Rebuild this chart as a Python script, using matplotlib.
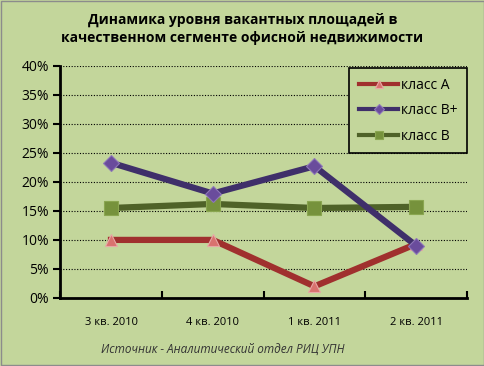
import matplotlib
matplotlib.use("Agg")
import matplotlib.pyplot as plt
from matplotlib.ticker import FuncFormatter, MultipleLocator

categories = ["3 кв. 2010", "4 кв. 2010", "1 кв. 2011", "2 кв. 2011"]
class_a = [10.0, 10.0, 2.0, 9.3]
class_bp = [23.3, 18.0, 22.7, 9.0]
class_b = [15.5, 16.2, 15.5, 15.7]

plt.rcParams['font.family'] = ['Open Sans', 'DejaVu Sans']
bg = "#c3d69b"
fig = plt.figure(figsize=(4.85, 3.66), dpi=100, facecolor=bg)
ax = fig.add_axes([0.124, 0.186, 0.839, 0.634], facecolor=bg)

x = list(range(len(categories)))
ax.plot(x, class_a, color="#a0302e", lw=4.5, marker="^", ms=9,
        mfc="#d9726f", mec="#e8a8a6", mew=0.8, label="класс А", zorder=3)
ax.plot(x, class_bp, color="#3f2f6a", lw=4.5, marker="D", ms=8,
        mfc="#6a4c9c", mec="#8e78b8", mew=0.8, label="класс В+", zorder=4)
ax.plot(x, class_b, color="#4f6228", lw=4.5, marker="s", ms=10,
        mfc="#76923c", mec="#8aa650", mew=0.8, label="класс В", zorder=3)

ax.set_xlim(-0.5, 3.5)
ax.set_ylim(0, 40)
ax.yaxis.set_major_locator(MultipleLocator(5))
ax.yaxis.set_major_formatter(FuncFormatter(lambda v, p: f"{int(v)}%"))
ax.set_xticks(x)
ax.set_xticklabels(categories, fontsize=8)
ax.set_xticks([-0.5, 0.5, 1.5, 2.5, 3.5], minor=True)
ax.tick_params(axis='x', which='major', length=0, pad=14)
ax.tick_params(axis='x', which='minor', length=5, width=1.5, direction='in')
ax.tick_params(axis='y', labelsize=10, length=5, width=1.5, direction='out', pad=3)
ax.grid(axis='y', color='black', linestyle=(0, (1, 1.5)), lw=0.8)
ax.set_axisbelow(True)
for s in ['top', 'right']:
    ax.spines[s].set_visible(False)
ax.spines['left'].set_linewidth(2)
ax.spines['bottom'].set_linewidth(2)

leg = ax.legend(loc='upper right', bbox_to_anchor=(1.0, 0.99), borderaxespad=0,
                fontsize=10, markerscale=0.6,
                frameon=True, fancybox=False, edgecolor='black', facecolor=bg,
                handlelength=2.8, labelspacing=0.75, borderpad=0.7, handletextpad=0.2)
leg.get_frame().set_linewidth(1.2)
leg.get_frame().set_alpha(1)
for ln in leg.get_lines():
    ln.set_linewidth(3)

fig.text(0.5, 0.965, "Динамика уровня вакантных площадей в\nкачественном сегменте офисной недвижимости",
         ha='center', va='top', fontsize=10, fontweight='bold', linespacing=1.35)
fig.text(0.46, 0.045, "Источник - Аналитический отдел РИЦ УПН", ha='center', va='center',
         fontsize=8.5, style='italic', color='#333333')

fig.patches.append(plt.Rectangle((0.002, 0.003), 0.996, 0.994, transform=fig.transFigure,
                                 fill=False, edgecolor='#8c8c8c', lw=1))
fig.savefig("out.png", dpi=100, facecolor=bg)
